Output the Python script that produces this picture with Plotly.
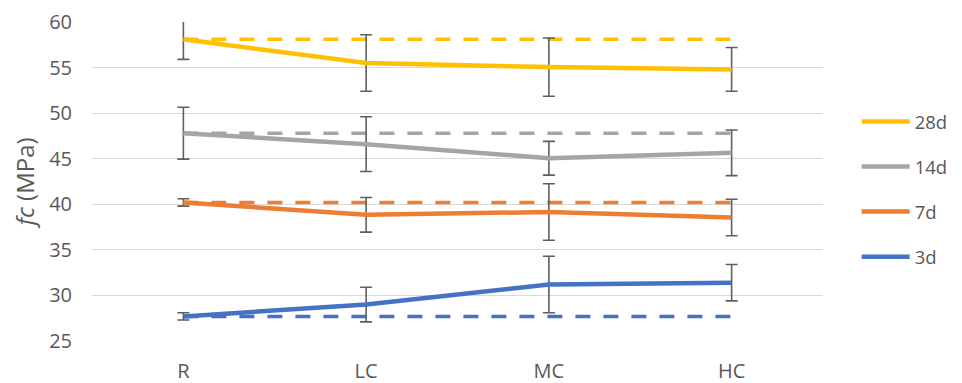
import plotly.graph_objects as go

categories = ["R", "LC", "MC", "HC"]
series_names = ["28d", "14d", "7d", "3d"]
colors = ["#FFC000", "#A5A5A5", "#ED7D31", "#4472C4"]

fc_28d = [58.1, 55.5, 55.05, 54.8]
fc_14d = [47.8, 46.6, 45.05, 45.65]
fc_7d = [40.2, 38.85, 39.15, 38.55]
fc_3d = [27.7, 29.0, 31.2, 31.4]

err_28d = [2.2, 3.1, 3.2, 2.4]
err_14d = [2.85, 3.0, 1.85, 2.5]
err_7d = [0.4, 1.9, 3.1, 2.0]
err_3d = [0.4, 1.9, 3.1, 2.0]

values = [fc_28d, fc_14d, fc_7d, fc_3d]
errors = [err_28d, err_14d, err_7d, err_3d]

text_color = "#595959"
font_family = "Open Sans, Liberation Sans, sans-serif"

fig = go.Figure()

# dashed reference lines (value of R carried across)
for name, vals, col in zip(series_names, values, colors):
    fig.add_trace(go.Scatter(
        x=categories, y=[vals[0]] * len(categories), mode="lines",
        line=dict(color=col, width=3.5, dash="15px,13px"),
        showlegend=False, hoverinfo="skip",
    ))

for i, (name, vals, errs, col) in enumerate(zip(series_names, values, errors, colors)):
    fig.add_trace(go.Scatter(
        x=categories, y=vals, mode="lines", name=name,
        legendgroup=name,
        line=dict(color=col, width=4.5),
        error_y=dict(type="data", array=errs, visible=True,
                     color="#5f5f5f", thickness=1.6, width=6),
    ))

fig.update_layout(
    width=954, height=375,
    margin=dict(l=84, r=139, t=14, b=42, autoexpand=False),
    paper_bgcolor="white", plot_bgcolor="white",
    font=dict(family=font_family, color=text_color, size=20),
    legend=dict(
        x=1.046, xanchor="left", y=0.475, yanchor="middle",
        font=dict(size=18.5, color=text_color),
        traceorder="grouped", tracegroupgap=18,
        itemwidth=48, bgcolor="rgba(0,0,0,0)",
    ),
    showlegend=True,
)

fig.update_xaxes(
    type="category", range=[-0.5, 3.5], automargin=False,
    showgrid=False, showline=False, zeroline=False,
    ticks="", ticklabelstandoff=16,
    tickfont=dict(size=20, color=text_color),
)
fig.update_yaxes(
    range=[25, 60], dtick=5, tick0=25, automargin=False,
    showgrid=True, gridcolor="#d9d9d9", gridwidth=1.3,
    zeroline=False, showline=False, ticks="",
    ticklabelstandoff=19,
    tickfont=dict(size=20, color=text_color),
    title=dict(text="<i>fc</i> (MPa)", font=dict(size=24, color=text_color), standoff=12),
)

fig.write_html("out.html")
